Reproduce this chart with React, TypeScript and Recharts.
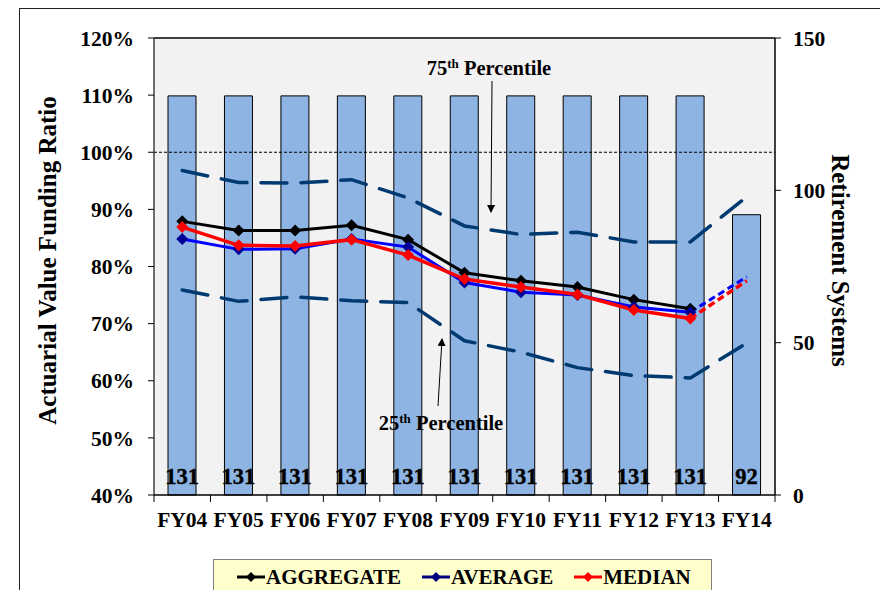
import { Bar, ComposedChart, Line, XAxis, YAxis, CartesianGrid, ReferenceLine } from 'recharts';

// values
const years = ['FY04', 'FY05', 'FY06', 'FY07', 'FY08', 'FY09', 'FY10', 'FY11', 'FY12', 'FY13', 'FY14'];
const systems = [131, 131, 131, 131, 131, 131, 131, 131, 131, 131, 92];
const aggregate = [87.9, 86.3, 86.3, 87.2, 84.7, 78.9, 77.5, 76.4, 74.2, 72.6, null];
const average = [84.8, 83.0, 83.1, 84.8, 83.4, 77.2, 75.5, 75.0, 72.9, 72.0, null];
const averageEst = [null, null, null, null, null, null, null, null, null, 72.0, 78.2];
const median = [86.9, 83.7, 83.6, 84.7, 82.0, 77.8, 76.4, 75.1, 72.4, 70.9, null];
const medianEst = [null, null, null, null, null, null, null, null, null, 70.9, 77.5];
const pct75 = [96.8, 94.7, 94.6, 95.2, 92.0, 87.1, 85.6, 86.0, 84.3, 84.3, 92.2];
const pct25 = [75.9, 73.9, 74.7, 74.0, 73.7, 67.0, 65.0, 62.3, 60.9, 60.5, 66.6];
const ratioTicks = [40, 50, 60, 70, 80, 90, 100, 110, 120];
const systemTicks = [0, 50, 100, 150];

const FONT = '"Liberation Serif", "Times New Roman", serif';
const BAND = 621 / years.length;

const chartData = years.map((year, i) => ({
    year,
    systems: systems[i],
    aggregate: aggregate[i],
    average: average[i],
    averageEst: averageEst[i],
    median: median[i],
    medianEst: medianEst[i],
    pct75: pct75[i],
    pct25: pct25[i],
}));

const diamond = (fill: string, r = 6) => (props: any) => {
    const { cx, cy, index } = props;
    if (cx == null || cy == null) return <g key={index} />;
    return (
        <polygon
            key={index}
            points={`${cx},${cy - r} ${cx + r},${cy} ${cx},${cy + r} ${cx - r},${cy}`}
            fill={fill}
        />
    );
};

const XTick = (props: any) => {
    const { x, y, payload, index } = props;
    const left = x - BAND / 2;
    return (
        <g>
            <line x1={left} x2={left} y1={y - 8} y2={y - 1} stroke="#000" />
            {index === years.length - 1 && (
                <line x1={x + BAND / 2} x2={x + BAND / 2} y1={y - 8} y2={y - 1} stroke="#000" />
            )}
            <text x={x} y={y + 24} textAnchor="middle" fontSize={21.5} fontWeight="bold" fontFamily={FONT} fill="#000">
                {payload.value}
            </text>
        </g>
    );
};

// count printed at the foot of each bar
const barCount = (props: any) => {
    const box = props.viewBox ?? props;
    const { x, y, width, height } = box;
    return (
        <text
            key={`count-${props.index}`}
            x={x + width / 2}
            y={y + height - 11}
            textAnchor="middle"
            fontSize={22.5}
            fontWeight="bold"
            fontFamily={FONT}
            fill="#000"
            stroke="#000"
            strokeWidth={0.4}
        >
            {props.value}
        </text>
    );
};

const AxisTitle = (props: any) => {
    const { viewBox, text, side } = props;
    const vb = viewBox ?? (side === 'left' ? { x: 66, y: 30, width: 80, height: 457 } : { x: 767, y: 30, width: 60, height: 457 });
    const cx = side === 'left' ? vb.x - 27 : vb.x + 65;
    const cy = vb.y + vb.height / 2 - 6;
    return (
        <text
            x={cx}
            y={cy}
            transform={`rotate(${side === 'left' ? -90 : 90} ${cx} ${cy})`}
            textAnchor="middle"
            dominantBaseline="central"
            fontSize={25}
            fontWeight="bold"
            fontFamily={FONT}
            fill="#000"
        >
            {text}
        </text>
    );
};

const LegendItem = ({ color, marker, label }: { color: string; marker: string; label: string }) => (
    <div style={{ display: 'flex', alignItems: 'center', marginRight: 20 }}>
        <svg width={30} height={14}>
            <line x1={1} x2={29} y1={7} y2={7} stroke={color} strokeWidth={3} />
            <polygon points="15,2 20,7 15,12 10,7" fill={marker} />
        </svg>
        <span>{label}</span>
    </div>
);

const tickStyle = { fontSize: 21.5, fontWeight: 'bold', fill: '#000', fontFamily: FONT };

const App = () => {
    return (
        <div style={{ position: 'relative', width: 880, height: 582, overflow: 'hidden', fontFamily: FONT }}>
            <div
                style={{
                    position: 'absolute',
                    left: 11,
                    top: 0,
                    width: 864,
                    height: 600,
                    borderLeft: '1px solid #222',
                    borderTop: '1px solid #222',
                    borderRight: '1px solid #222',
                }}
            />
            <ComposedChart
                width={880}
                height={582}
                data={chartData}
                margin={{ top: 30, right: 53, left: 66, bottom: 65 }}
            >
                <CartesianGrid yAxisId="left" fill="#F2F2F2" stroke="none" horizontal={false} vertical={false} />
                <XAxis
                    dataKey="year"
                    height={30}
                    interval={0}
                    tickLine={false}
                    axisLine={{ stroke: '#000', strokeWidth: 1.5 }}
                    tick={<XTick />}
                />
                <YAxis
                    yAxisId="left"
                    width={80}
                    domain={[40, 120]}
                    ticks={ratioTicks}
                    tickFormatter={(v) => `${v}%`}
                    tickSize={6}
                    tickMargin={14}
                    tick={tickStyle}
                    axisLine={{ stroke: '#404040', strokeWidth: 1.5 }}
                    tickLine={{ stroke: '#000' }}
                    label={<AxisTitle side="left" text="Actuarial Value Funding Ratio" />}
                />
                <YAxis
                    yAxisId="right"
                    orientation="right"
                    width={60}
                    domain={[0, 150]}
                    ticks={systemTicks}
                    tickSize={6}
                    tickMargin={12}
                    tick={tickStyle}
                    axisLine={{ stroke: '#000', strokeWidth: 1.5 }}
                    tickLine={{ stroke: '#000' }}
                    label={<AxisTitle side="right" text="Retirement Systems" />}
                />
                <Bar
                    yAxisId="right"
                    dataKey="systems"
                    barSize={28}
                    fill="#8DB4E2"
                    stroke="#000"
                    strokeWidth={1}
                    label={barCount}
                    isAnimationActive={false}
                />
                <ReferenceLine yAxisId="left" y={100} stroke="#000" strokeWidth={1} strokeDasharray="3 2" />
                <ReferenceLine yAxisId="left" y={120} stroke="#404040" strokeWidth={2} />
                <Line yAxisId="left" dataKey="pct75" stroke="#003A70" strokeWidth={3.5} strokeDasharray="26 14" strokeLinecap="round" dot={false} isAnimationActive={false} />
                <Line yAxisId="left" dataKey="pct25" stroke="#003A70" strokeWidth={3.5} strokeDasharray="26 14" strokeLinecap="round" dot={false} isAnimationActive={false} />
                <Line yAxisId="left" dataKey="aggregate" stroke="#000" strokeWidth={3} dot={diamond('#000')} isAnimationActive={false} />
                <Line yAxisId="left" dataKey="averageEst" stroke="#0000FF" strokeWidth={3} strokeDasharray="7 4" dot={false} isAnimationActive={false} />
                <Line yAxisId="left" dataKey="average" stroke="#0000FF" strokeWidth={3} dot={diamond('#000099')} isAnimationActive={false} />
                <Line yAxisId="left" dataKey="medianEst" stroke="#FF0000" strokeWidth={3.5} strokeDasharray="7 4" dot={false} isAnimationActive={false} />
                <Line yAxisId="left" dataKey="median" stroke="#FF0000" strokeWidth={3.5} dot={diamond('#FF0000')} isAnimationActive={false} />
            </ComposedChart>
            <svg
                width={880}
                height={582}
                style={{ position: 'absolute', left: 0, top: 0, pointerEvents: 'none' }}
                fontFamily={FONT}
                fontWeight="bold"
            >
                <defs>
                    <marker id="arrow" markerWidth={8} markerHeight={8} refX={7} refY={4} orient="auto" markerUnits="userSpaceOnUse">
                        <path d="M0,0 L8,4 L0,8 Z" fill="#000" />
                    </marker>
                </defs>
                <text x={481} y={67} textAnchor="middle" fontSize={20.5}>
                    75<tspan fontSize={13} dy={-7}>th</tspan>
                    <tspan dy={7}> Percentile</tspan>
                </text>
                <line x1={484} y1={73} x2={483} y2={204} stroke="#000" strokeWidth={1} markerEnd="url(#arrow)" />
                <text x={433} y={422} textAnchor="middle" fontSize={20.5}>
                    25<tspan fontSize={13} dy={-7}>th</tspan>
                    <tspan dy={7}> Percentile</tspan>
                </text>
                <line x1={430} y1={398} x2={434} y2={331} stroke="#000" strokeWidth={1} markerEnd="url(#arrow)" />
            </svg>
            <div
                style={{
                    position: 'absolute',
                    left: 205,
                    top: 551,
                    width: 499,
                    height: 40,
                    background: '#FFFFCC',
                    border: '1px solid #7F7F7F',
                    display: 'flex',
                    alignItems: 'flex-start',
                    paddingLeft: 22,
                    paddingTop: 6,
                    boxSizing: 'border-box',
                    fontSize: 21,
                    fontWeight: 'bold',
                    lineHeight: '22px',
                    color: '#000',
                }}
            >
                <LegendItem color="#000" marker="#000" label="AGGREGATE" />
                <LegendItem color="#000080" marker="#000080" label="AVERAGE" />
                <LegendItem color="#FF0000" marker="#FF0000" label="MEDIAN" />
            </div>
        </div>
    );
};

export default App;
